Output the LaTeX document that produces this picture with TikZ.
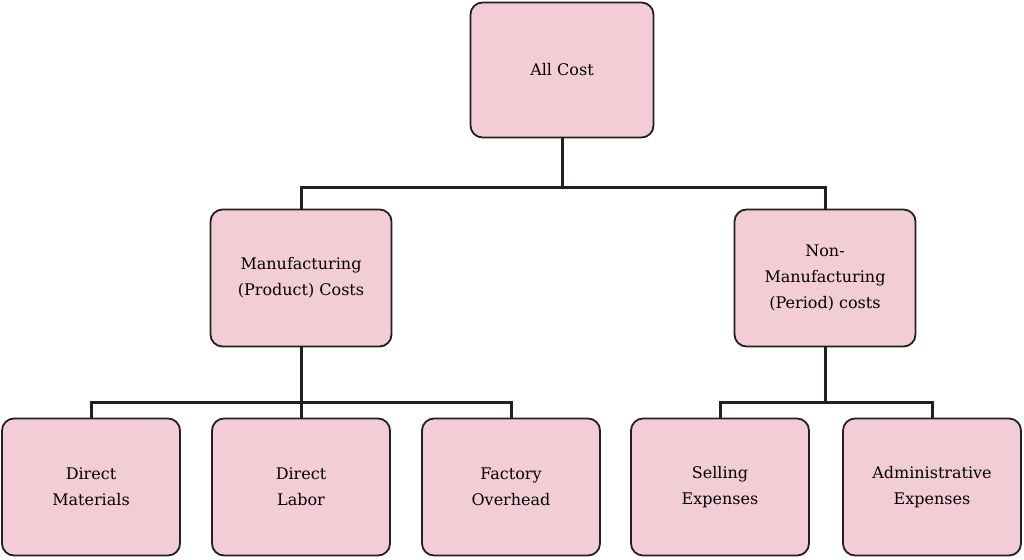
\documentclass[tikz,border=0pt]{standalone}
\usepackage{fontspec}
\setmainfont{DejaVu Serif}
\definecolor{boxpink}{RGB}{242,205,214}
\definecolor{edge}{RGB}{35,31,32}
\begin{document}
\begin{tikzpicture}[x=1pt,y=-1pt,
  box/.style={draw=edge,fill=boxpink,line width=1.8pt,rounded corners=12pt,align=center,font=\fontsize{16}{26}\selectfont,inner sep=0pt},
  conn/.style={draw=edge,line width=3pt}]
\useasboundingbox (0,0) rectangle (1024,559);
\node[box,minimum width=183pt,minimum height=135pt] (all) at (562,70) {All Cost};
\node[box,minimum width=181pt,minimum height=137pt] (man) at (301,278) {Manufacturing\\(Product) Costs};
\node[box,minimum width=181pt,minimum height=137pt] (non) at (825,278) {Non-\\Manufacturing\\(Period) costs};
\node[box,minimum width=178pt,minimum height=137pt] (dm) at (91,487) {Direct\\Materials};
\node[box,minimum width=178pt,minimum height=137pt] (dl) at (301,487) {Direct\\Labor};
\node[box,minimum width=178pt,minimum height=137pt] (fo) at (511,487) {Factory\\Overhead};
\node[box,minimum width=178pt,minimum height=137pt] (se) at (720,487) {Selling\\Expenses};
\node[box,minimum width=178pt,minimum height=137pt] (ae) at (932,487) {Administrative\\Expenses};
\coordinate (j1) at (562,187);
\coordinate (j2) at (301,402);
\coordinate (j3) at (825,402);
\draw[conn] (all.south) -- (j1);
\draw[conn] (j1) -| (man.north);
\draw[conn] (j1) -| (non.north);
\draw[conn] (man.south) -- (j2);
\draw[conn] (j2) -| (dm.north);
\draw[conn] (j2) -- (dl.north);
\draw[conn] (j2) -| (fo.north);
\draw[conn] (non.south) -- (j3);
\draw[conn] (j3) -| (se.north);
\draw[conn] (j3) -| (ae.north);
\end{tikzpicture}
\end{document}
